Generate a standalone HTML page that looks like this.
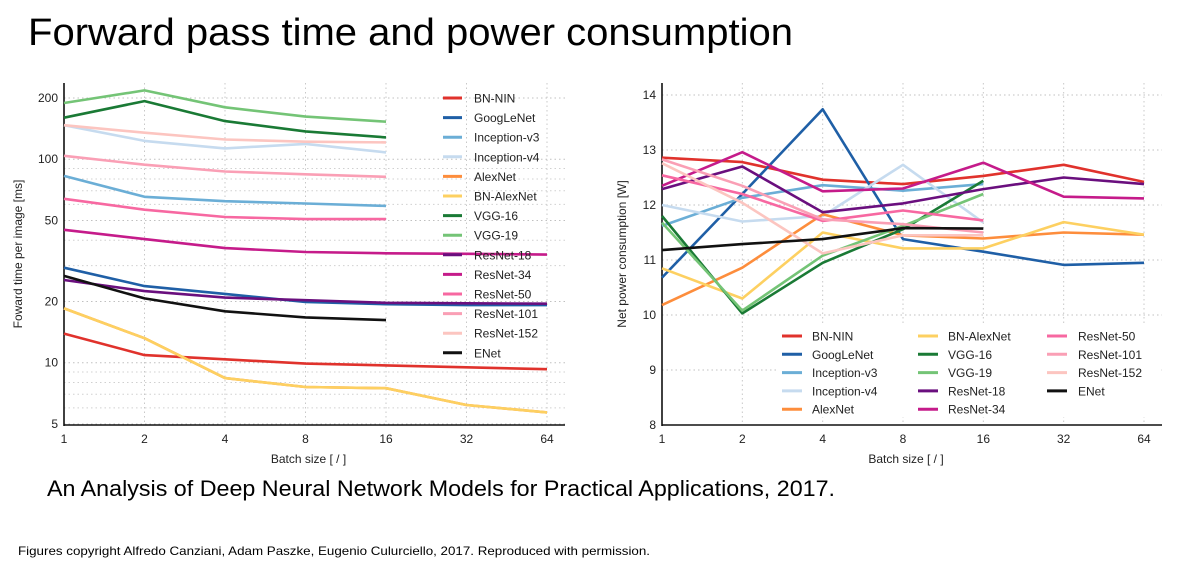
<!DOCTYPE html>
<html><head><meta charset="utf-8"><style>
html,body{margin:0;padding:0;background:#fff;}
svg{display:block;font-family:"Liberation Sans",Arial,sans-serif;}
</style></head><body>
<svg id="root" width="1180" height="564" viewBox="0 0 1180 564" xmlns="http://www.w3.org/2000/svg">
<text x="28" y="45" font-size="38" textLength="765" lengthAdjust="spacingAndGlyphs">Forward pass time and power consumption</text>
<text x="47" y="496" font-size="22" textLength="788" lengthAdjust="spacingAndGlyphs">An Analysis of Deep Neural Network Models for Practical Applications, 2017.</text>
<text x="18" y="555" font-size="12" textLength="632" lengthAdjust="spacingAndGlyphs">Figures copyright Alfredo Canziani, Adam Paszke, Eugenio Culurciello, 2017. Reproduced with permission.</text>
<g id="left"></g>
<g id="right"></g>
</svg>
<script>
const batches = [1,2,4,8,16,32,64];
const names = ["BN-NIN","GoogLeNet","Inception-v3","Inception-v4","AlexNet","BN-AlexNet","VGG-16","VGG-19","ResNet-18","ResNet-34","ResNet-50","ResNet-101","ResNet-152","ENet"];
const colors = ["#e0322c","#1f5fa6","#6baed6","#c6dbef","#fd8d3c","#fdd061","#1a7a35","#74c476","#6a0f7e","#c51b8a","#f768a1","#fa9fb5","#fcc5c0","#111111"];
const timeBNNIN = [13.9,10.9,10.4,9.9,9.7,9.5,9.3];
const timeGoogLeNet = [29.3,23.8,21.8,19.9,19.4,19.2,19.2];
const timeInceptionV3 = [82.8,65.4,62.2,60.6,59.0];
const timeInceptionV4 = [147,123,113,119,108];
const timeAlexNet = [18.5,13.2,8.4,7.6,7.5,6.2,5.7];
const timeBNAlexNet = [18.5,13.2,8.4,7.6,7.5,6.2,5.7];
const timeVGG16 = [160,193,154,137,128];
const timeVGG19 = [189,218,180,162,153];
const timeResNet18 = [25.5,22.5,20.9,20.3,19.7,19.6,19.5];
const timeResNet34 = [45,40.5,36.6,35.0,34.5,34.3,34.0];
const timeResNet50 = [63.9,56.5,52.0,50.8,50.8];
const timeResNet101 = [104,94,87,84.3,82];
const timeResNet152 = [147,135,125,122,121];
const timeENet = [26.7,20.7,17.9,16.7,16.2];
const powBNNIN = [12.86,12.78,12.46,12.38,12.53,12.73,12.42];
const powGoogLeNet = [10.68,12.2,13.74,11.38,11.15,10.91,10.95];
const powInceptionV3 = [11.62,12.13,12.36,12.26,12.38];
const powInceptionV4 = [12.0,11.7,11.8,12.73,11.68];
const powAlexNet = [10.18,10.86,11.83,11.45,11.39,11.5,11.46];
const powBNAlexNet = [10.85,10.3,11.5,11.21,11.21,11.69,11.46];
const powVGG16 = [11.8,10.03,10.95,11.56,12.44];
const powVGG19 = [11.68,10.08,11.08,11.62,12.2];
const powResNet18 = [12.29,12.7,11.87,12.03,12.29,12.5,12.38];
const powResNet34 = [12.35,12.96,12.25,12.3,12.77,12.15,12.12];
const powResNet50 = [12.54,12.2,11.71,11.9,11.72];
const powResNet101 = [12.83,12.35,11.74,11.65,11.5];
const powResNet152 = [12.76,12.04,11.12,11.45,11.45];
const powENet = [11.18,11.29,11.38,11.58,11.57];
const timeTicks = [5,10,20,50,100,200];
const powTicks = [8,9,10,11,12,13,14];

const timeSeries = [timeBNNIN,timeGoogLeNet,timeInceptionV3,timeInceptionV4,timeAlexNet,timeBNAlexNet,timeVGG16,timeVGG19,timeResNet18,timeResNet34,timeResNet50,timeResNet101,timeResNet152,timeENet];
const powSeries = [powBNNIN,powGoogLeNet,powInceptionV3,powInceptionV4,powAlexNet,powBNAlexNet,powVGG16,powVGG19,powResNet18,powResNet34,powResNet50,powResNet101,powResNet152,powENet];
const NS="http://www.w3.org/2000/svg";
function mk(tag,attrs,parent){const e=document.createElementNS(NS,tag);for(const k in attrs)e.setAttribute(k,attrs[k]);parent.appendChild(e);return e;}

function drawChart(g, cfg){
  const {x0,x1,yTop,yBot,yMap,series,ticks,minor,ylabel,prefix} = cfg;
  const xMap = b => x0 + Math.log2(b)/6*(x1-x0);
  const axisRight = x1+18;
  batches.forEach(b=>{ const x=xMap(b);
    const l=mk('line',{x1:x,x2:x,y1:yTop,y2:yBot,stroke:'#c8c8c8','stroke-dasharray':'1.5,3','stroke-width':1},g);
     
    const t=mk('text',{x:x,y:yBot+18,'font-size':12,'text-anchor':'middle',fill:'#222'},g); t.textContent=b;
     
  });
  minor.forEach(v=>{ const y=yMap(v);
    const l=mk('line',{x1:x0,x2:axisRight,y1:y,y2:y,stroke:'#d0d0d0','stroke-dasharray':'1.5,3','stroke-width':1},g);
     
  });
  ticks.forEach(v=>{ const y=yMap(v);
    const l=mk('line',{x1:x0,x2:axisRight,y1:y,y2:y,stroke:'#c0c0c0','stroke-dasharray':'1.5,3','stroke-width':1},g);
     
    const t=mk('text',{x:x0-6,y:y+4,'font-size':12,'text-anchor':'end',fill:'#222'},g); t.textContent=v;
     
  });
  const ya=mk('line',{x1:x0,x2:x0,y1:yTop,y2:yBot+1,stroke:'#111','stroke-width':1.6},g);
   
  const xa=mk('line',{x1:x0,x2:axisRight,y1:yBot,y2:yBot,stroke:'#111','stroke-width':1.6},g);
   
  const xt=mk('text',{x:(x0+axisRight)/2-6,y:yBot+38,'font-size':12,'text-anchor':'middle',fill:'#222'},g); xt.textContent='Batch size [ / ]';
   
  const ym=(yTop+yBot)/2;
  const yt=mk('text',{x:cfg.ylx,y:ym,'font-size':12,'text-anchor':'middle',fill:'#222',transform:`rotate(-90 ${cfg.ylx} ${ym})`},g); yt.textContent=ylabel;
   
  series.forEach((s,i)=>{
    const pts=s.map((v,j)=>xMap(batches[j]).toFixed(1)+','+yMap(v).toFixed(1)).join(' ');
    const p=mk('polyline',{points:pts,fill:'none',stroke:colors[i],'stroke-width':2.6,'stroke-linejoin':'round'},g);
    
    
  });
}

const L=document.getElementById('left');
drawChart(L,{x0:64,x1:547,yTop:83,yBot:425,prefix:'time',
  yMap:v=>424-(Math.log10(v)-Math.log10(5))*203.5,
  series:timeSeries,ticks:timeTicks,minor:[6,7,8,9,30,40,60,70,80,90],ylabel:'Foward time per image [ms]',ylx:22});
const R=document.getElementById('right');
drawChart(R,{x0:662,x1:1144,yTop:83,yBot:425,prefix:'power',
  yMap:v=>425-(v-8)*55,
  series:powSeries,ticks:powTicks,minor:[],ylabel:'Net power consumption [W]',ylx:626});

names.forEach((n,i)=>{
  const y=98+i*19.6;
  const g=mk('g',{},L);
  
  
  mk('line',{x1:443,x2:462,y1:y,y2:y,stroke:colors[i],'stroke-width':3},g);
  const t=mk('text',{x:474,y:y+4.5,'font-size':12,fill:'#222'},g); t.textContent=n;
});
const cols=[[782,812],[918,948],[1047,1078]];
const rbg=mk('rect',{x:776,y:325,width:385,height:92,fill:'#fff'},R);
 
names.forEach((n,i)=>{
  const c=Math.floor(i/5), r=i%5;
  const y=336+r*18.3;
  const g=mk('g',{},R);
  
  
  mk('line',{x1:cols[c][0],x2:cols[c][0]+20,y1:y,y2:y,stroke:colors[i],'stroke-width':3},g);
  const t=mk('text',{x:cols[c][1],y:y+4.5,'font-size':12,fill:'#222'},g); t.textContent=n;
});
</script>
</body></html>
